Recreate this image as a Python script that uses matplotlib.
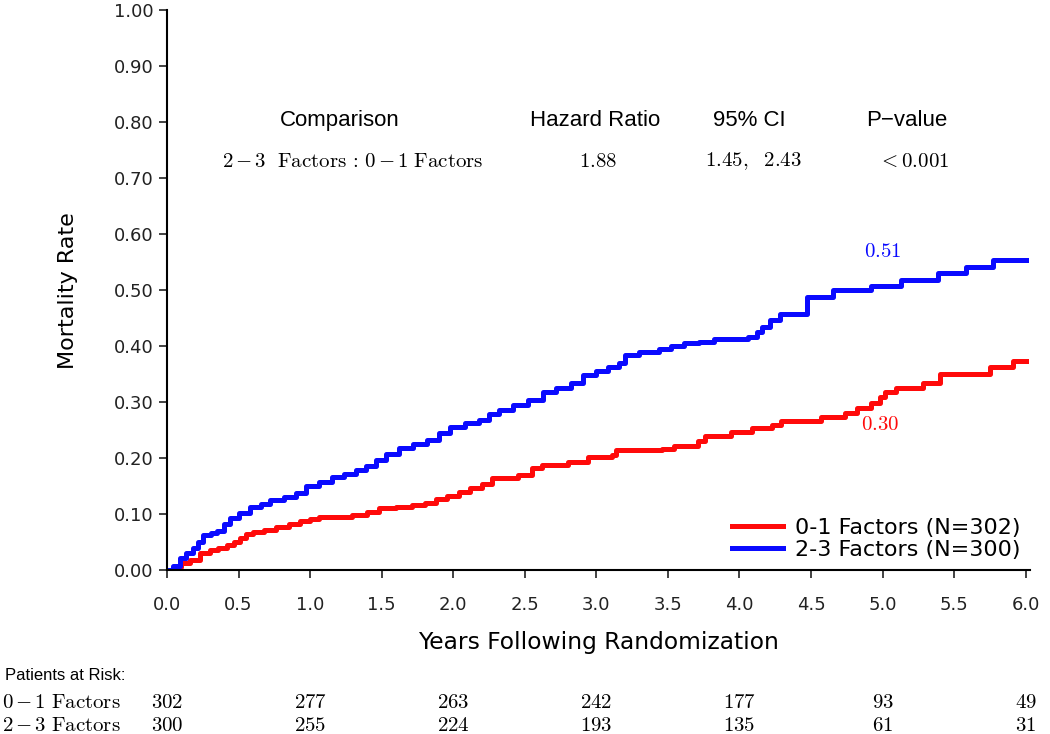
import numpy as np
import matplotlib.pyplot as plt
from matplotlib.transforms import blended_transform_factory

plt.rcParams['mathtext.fontset'] = 'cm'

# cumulative mortality (step points)
t_low = [0, 0.05, 0.10, 0.16, 0.23, 0.30, 0.36, 0.42, 0.47, 0.51, 0.55, 0.60, 0.68, 0.76, 0.85,
         0.93, 1.00, 1.06, 1.29, 1.40, 1.48, 1.60, 1.71, 1.80, 1.88, 1.96, 2.04, 2.12, 2.20, 2.27,
         2.45, 2.55, 2.62, 2.80, 2.94, 3.11, 3.14, 3.46, 3.54, 3.71, 3.76, 3.94, 4.09, 4.23, 4.29,
         4.57, 4.74, 4.82, 4.92, 4.98, 5.02, 5.09, 5.28, 5.40, 5.75, 5.91, 6.0]
v_low = [0, 0.006, 0.012, 0.018, 0.030, 0.035, 0.040, 0.045, 0.050, 0.058, 0.065, 0.068, 0.071, 0.077, 0.082,
         0.087, 0.092, 0.095, 0.098, 0.104, 0.110, 0.113, 0.116, 0.120, 0.126, 0.132, 0.139, 0.146, 0.153, 0.164,
         0.170, 0.182, 0.188, 0.193, 0.202, 0.206, 0.214, 0.217, 0.222, 0.230, 0.239, 0.246, 0.253, 0.259, 0.266,
         0.273, 0.280, 0.290, 0.298, 0.310, 0.318, 0.325, 0.334, 0.350, 0.363, 0.373, 0.373]

t_high = [0, 0.04, 0.09, 0.13, 0.18, 0.22, 0.25, 0.31, 0.35, 0.40, 0.44, 0.50, 0.58, 0.66, 0.72,
          0.82, 0.90, 0.97, 1.06, 1.15, 1.24, 1.32, 1.39, 1.46, 1.53, 1.62, 1.72, 1.82, 1.90, 1.98,
          2.08, 2.18, 2.25, 2.32, 2.42, 2.52, 2.63, 2.72, 2.82, 2.91, 3.00, 3.08, 3.16, 3.20, 3.30,
          3.44, 3.52, 3.61, 3.72, 3.82, 4.06, 4.12, 4.16, 4.21, 4.28, 4.47, 4.65, 4.92, 5.13, 5.39,
          5.58, 5.77, 6.0]
v_high = [0, 0.008, 0.021, 0.030, 0.039, 0.050, 0.063, 0.066, 0.070, 0.082, 0.093, 0.102, 0.112, 0.118, 0.125,
          0.130, 0.137, 0.150, 0.157, 0.166, 0.172, 0.178, 0.185, 0.196, 0.207, 0.218, 0.225, 0.232, 0.245, 0.255,
          0.262, 0.268, 0.278, 0.286, 0.295, 0.303, 0.318, 0.326, 0.334, 0.348, 0.356, 0.362, 0.370, 0.384, 0.389,
          0.395, 0.400, 0.405, 0.408, 0.412, 0.416, 0.425, 0.434, 0.446, 0.458, 0.488, 0.500, 0.508, 0.518, 0.530,
          0.541, 0.553, 0.553]

groups = [r"$\mathrm{0\,{-}\,1\ Factors}$", r"$\mathrm{2\,{-}\,3\ Factors}$"]
legend_labels = ["0-1 Factors (N=302)", "2-3 Factors (N=300)"]
risk_years = [0, 1, 2, 3, 4, 5, 6]
risk_low = [302, 277, 263, 242, 177, 93, 49]
risk_high = [300, 255, 224, 193, 135, 61, 31]

table_head = ["Comparison", "Hazard Ratio", "95% CI", "P\u2212value"]
table_row = [r"$\mathrm{2\,{-}\,3\ \ Factors\,{:}\,0\,{-}\,1\ Factors}$", r"$\mathrm{1.88}$",
             r"$\mathrm{1.45,\ \ 2.43}$", r"$<\mathrm{0.001}$"]
final_low, final_high = "0.30", "0.51"

RED = '#ff0a0a'
BLUE = '#0a0aff'

fig = plt.figure(figsize=(10.5, 7.34), dpi=100)
ax = fig.add_axes([0.159, 0.2234, 0.822, 0.7626])

ax.step(t_low, v_low, where='post', color=RED, lw=3.6, label=legend_labels[0])
ax.step(t_high, v_high, where='post', color=BLUE, lw=3.6, label=legend_labels[1])

ax.set_xlim(0, 6.03)
ax.set_ylim(0, 1.0)
ax.set_xticks(np.arange(0, 6.01, 0.5))
ax.set_xticklabels([f"{v:.1f}" for v in np.arange(0, 6.01, 0.5)])
ax.set_yticks(np.arange(0, 1.01, 0.1))
ax.set_yticklabels([f"{v:.2f}" for v in np.arange(0, 1.01, 0.1)])
ax.tick_params(direction='out', length=6, width=1.2, labelsize=13, colors='#222222')
ax.tick_params(axis='x', pad=13)
for s in ['top', 'right']:
    ax.spines[s].set_visible(False)
for s in ['left', 'bottom']:
    ax.spines[s].set_linewidth(1.5)

ax.set_xlabel("Years Following Randomization", fontsize=16.8, labelpad=12)
ax.set_ylabel("Mortality Rate", fontsize=16, labelpad=26)

leg = ax.legend(loc='lower right', frameon=False, fontsize=16, handlelength=2.3,
                borderaxespad=0.05, labelspacing=0.1, handletextpad=0.5)

# hazard ratio table
px2x = lambda px: (px - 167) / (1030 - 167) * 6.0
hx = [341, 597, 752, 910]
rx = [354, 600, 756, 917]
for x, s in zip(hx, table_head):
    ax.text(px2x(x), 0.803, s, ha='center', va='center', fontsize=16,
            family=['Liberation Sans', 'DejaVu Sans'])
for x, s in zip(rx, table_row):
    ax.text(px2x(x), 0.731, s, ha='center', va='center', fontsize=15)

ax.text(px2x(886), 0.57, r"$\mathrm{%s}$" % final_high, color=BLUE, ha='center', va='center', fontsize=15)
ax.text(px2x(884), 0.26, r"$\mathrm{%s}$" % final_low, color=RED, ha='center', va='center', fontsize=15)

# patients at risk
tr = blended_transform_factory(ax.transData, fig.transFigure)
fig.text(0.005, 1 - 675 / 734, "Patients at Risk:", ha='left', va='center', fontsize=12,
         family=['Liberation Sans', 'DejaVu Sans'])
for yy, name, nums in [(702, groups[0], risk_low), (725, groups[1], risk_high)]:
    fig.text(0.002, 1 - yy / 734, name, ha='left', va='center', fontsize=15)
    for x, n in zip(risk_years, nums):
        ax.text(x, 1 - yy / 734, r"$\mathrm{%d}$" % n, transform=tr, ha='center', va='center',
                fontsize=15)

fig.savefig("out.png", dpi=100)
